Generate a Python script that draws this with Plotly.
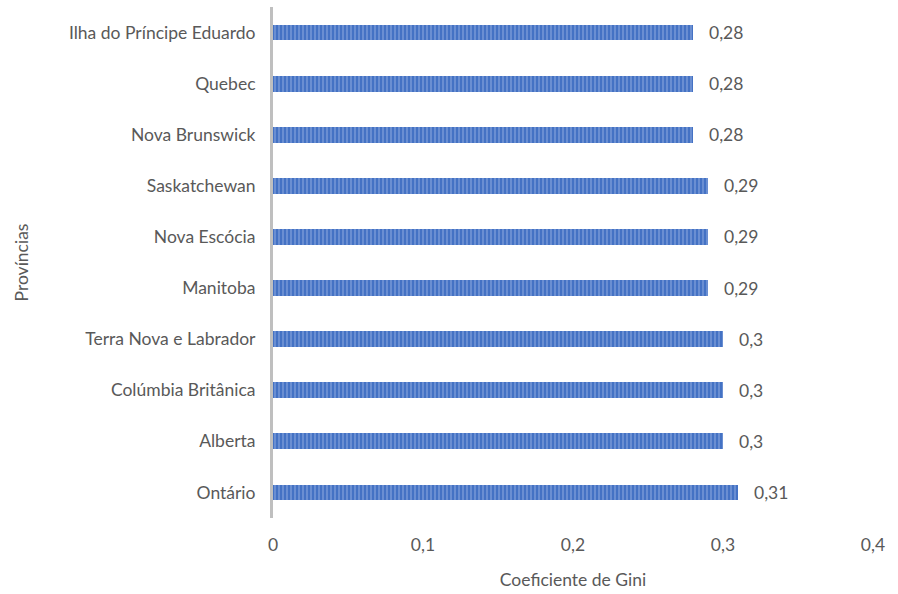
import plotly.graph_objects as go

provincias = ["Ontário", "Alberta", "Colúmbia Britânica", "Terra Nova e Labrador",
              "Manitoba", "Nova Escócia", "Saskatchewan", "Nova Brunswick",
              "Quebec", "Ilha do Príncipe Eduardo"]
gini = [0.31, 0.30, 0.30, 0.30, 0.29, 0.29, 0.29, 0.28, 0.28, 0.28]
x_ticks = [0, 0.1, 0.2, 0.3, 0.4]
x_tick_labels = ["0", "0,1", "0,2", "0,3", "0,4"]

font = dict(family="Lato, sans-serif", size=17.5, color="#595959")

fig = go.Figure()
fig.add_trace(go.Bar(
    y=provincias, x=gini, orientation="h", width=0.31,
    marker=dict(color="#4472C4", line=dict(width=0),
                pattern=dict(shape="|", fgcolor="#A3BAE6", bgcolor="#4472C4",
                             size=4, solidity=0.4)),
    hoverinfo="x+y",
))

for p, v in zip(provincias, gini):
    fig.add_annotation(x=v, y=p, text=("%g" % v).replace(".", ","),
                       xanchor="left", xshift=14, showarrow=False, font=font)

fig.update_layout(
    width=898, height=594,
    margin=dict(l=273, r=25, t=7, b=76),
    paper_bgcolor="white", plot_bgcolor="white",
    font=font, showlegend=False, bargap=0,
    xaxis=dict(range=[0, 0.4], tickvals=x_ticks, ticktext=x_tick_labels,
               showgrid=False, zeroline=False, showline=False, ticks="",
               ticklabelstandoff=14, automargin=False,
               title=dict(text="Coeficiente de Gini", standoff=20, font=font)),
    yaxis=dict(categoryorder="array", categoryarray=provincias,
               showgrid=False, zeroline=False, showline=True,
               linecolor="#BFBFBF", linewidth=3, ticks="",
               ticklabelstandoff=11, automargin=False,
               title=dict(text="Províncias", standoff=36, font=font)),
)

fig.write_html("out.html")
